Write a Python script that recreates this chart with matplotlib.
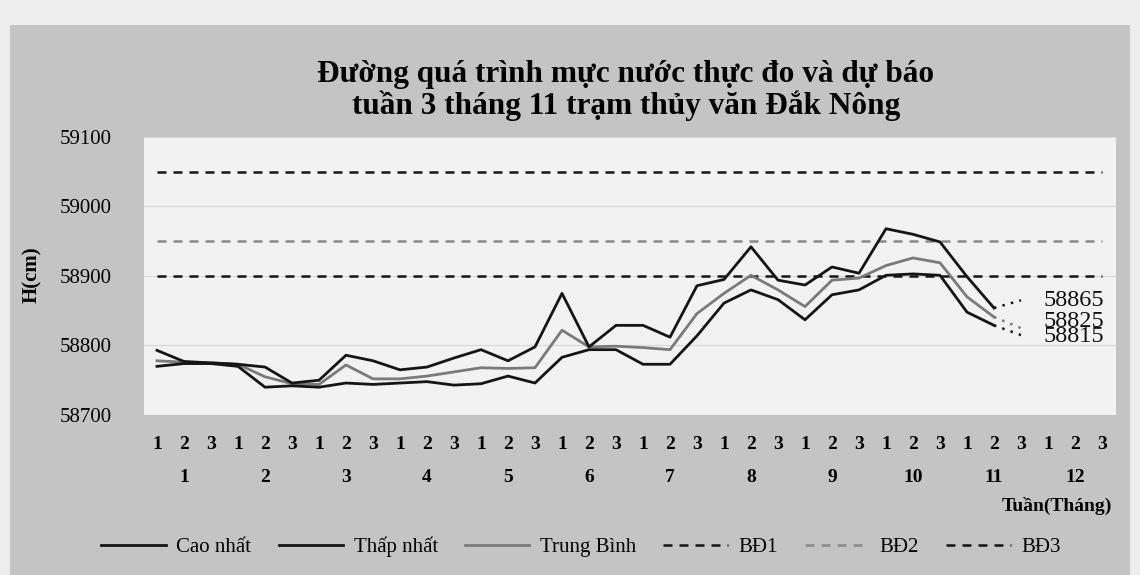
import matplotlib
matplotlib.use("Agg")
import matplotlib.pyplot as plt
from matplotlib.patches import Rectangle
import matplotlib.transforms as mtransforms

# ---- data ----
dekads = ["1", "2", "3"] * 12
months = [str(m) for m in range(1, 13)]
cao_nhat = [58793, 58777, 58775, 58773, 58769, 58746, 58750, 58786, 58778, 58765,
            58769, 58782, 58794, 58778, 58798, 58875, 58798, 58829, 58829, 58812,
            58886, 58895, 58942, 58894, 58887, 58913, 58904, 58968, 58960, 58949,
            58899, 58854]
trung_binh = [58778, 58776, 58775, 58773, 58755, 58745, 58744, 58772, 58752, 58752,
              58756, 58762, 58768, 58767, 58768, 58822, 58798, 58799, 58797, 58794,
              58846, 58875, 58901, 58880, 58856, 58894, 58897, 58915, 58926, 58919,
              58870, 58841]
thap_nhat = [58770, 58774, 58774, 58770, 58740, 58742, 58740, 58746, 58744, 58746,
             58748, 58743, 58745, 58756, 58746, 58783, 58794, 58794, 58773, 58773,
             58814, 58861, 58880, 58866, 58837, 58873, 58880, 58901, 58903, 58901,
             58848, 58829]
forecast = {"cao": 58865, "tb": 58825, "thap": 58815}
bd1, bd2, bd3 = 58900, 58950, 59050
yticks = [58700, 58800, 58900, 59000, 59100]

serif = "Liberation Serif"
plt.rcParams["font.family"] = [serif, "DejaVu Serif"]

fig = plt.figure(figsize=(11.4, 5.75), dpi=100)
fig.patch.set_facecolor("#ededed")
bg = Rectangle((10 / 1140, 0), 1120 / 1140, 550 / 575,
               transform=fig.transFigure, facecolor="#c4c4c4",
               edgecolor="none", zorder=-10)
fig.patches.append(bg)

ax = fig.add_axes([143.5 / 1140, 1 - 415 / 575, 972 / 1140, 278 / 575])
ax.set_zorder(5)
ax.set_facecolor("#f2f2f2")
for s in ax.spines.values():
    s.set_visible(False)

n = len(dekads)
x = list(range(n))
xo = x[:len(cao_nhat)]

c_black = "#151515"
c_gray = "#7a7a7a"
dash = (0, (3.6, 2.8))
ax.plot(xo, cao_nhat, color=c_black, lw=2.0, zorder=4, label="Cao nhất")
ax.plot(xo, thap_nhat, color=c_black, lw=2.0, zorder=4, label="Thấp nhất")
ax.plot(xo, trung_binh, color=c_gray, lw=2.0, zorder=3, label="Trung Bình")

ax.axhline(bd1, color=c_black, lw=1.8, ls=dash, zorder=2, label="BĐ1",
           xmin=0.5 / 36, xmax=35.5 / 36)
ax.axhline(bd2, color="#8a8a8a", lw=1.8, ls=dash, zorder=2, label="BĐ2",
           xmin=0.5 / 36, xmax=35.5 / 36)
ax.axhline(bd3, color=c_black, lw=1.8, ls=dash, zorder=2, label="BĐ3",
           xmin=0.5 / 36, xmax=35.5 / 36)

last = len(cao_nhat) - 1
for key, series, col in [("cao", cao_nhat, c_black), ("tb", trung_binh, c_gray),
                         ("thap", thap_nhat, c_black)]:
    ax.plot([last, last + 1], [series[-1], forecast[key]], color=col, lw=1.8,
            ls=(0, (1, 2.5)), zorder=4)
offsets = {"cao": 0, "tb": 5, "thap": -1}
for key in ["cao", "tb", "thap"]:
    ax.annotate(str(forecast[key]), (last + 1, forecast[key]),
                xytext=(16, offsets[key]), textcoords="offset points",
                va="center", ha="left", fontsize=17.5, color="#111111", family=serif)

ax.set_xlim(-0.5, n - 0.5)
ax.set_ylim(58700, 59100)
ax.set_yticks(yticks)
ax.set_yticklabels([str(v) for v in yticks], fontsize=15, family=serif)
ax.tick_params(axis="y", length=0, pad=23)
ax.set_xticks(x)
ax.set_xticklabels(dekads, fontsize=14, fontweight="bold", family=serif)
ax.tick_params(axis="x", length=0, pad=15)
ax.grid(axis="y", color="#d8d8d8", lw=0.8)
ax.grid(axis="x", visible=False)
ax.set_axisbelow(True)

trans = mtransforms.blended_transform_factory(ax.transData, fig.transFigure)
for i, m in enumerate(months):
    ax.text(3 * i + 1, 1 - 477 / 575, m, transform=trans, ha="center", va="center",
            fontsize=14, fontweight="bold", family=serif, clip_on=False)
fig.text(1057 / 1140, 1 - 506 / 575, "Tuần(Tháng)", ha="center", va="center",
         fontsize=14, fontweight="bold", family=serif)

fig.text(32 / 1140, 1 - 275 / 575, "H(cm)", rotation=90, ha="center", va="center",
         fontsize=15, fontweight="bold", family=serif)

fig.text(626 / 1140, 1 - 74 / 575, "Đường quá trình mực nước thực đo và dự báo",
         ha="center", va="center", fontsize=22.5, fontweight="bold", family=serif)
fig.text(626 / 1140, 1 - 106 / 575, "tuần 3 tháng 11 trạm thủy văn Đắk Nông",
         ha="center", va="center", fontsize=22.5, fontweight="bold", family=serif)

handles, labels = ax.get_legend_handles_labels()
leg = fig.legend(handles, labels, loc="center", bbox_to_anchor=(581 / 1140, 1 - 547 / 575),
                 ncol=6, frameon=False, handlelength=3.1,
                 columnspacing=1.3, handletextpad=0.5, prop={"family": serif, "size": 15})

fig.savefig("out.png", dpi=100, facecolor=fig.get_facecolor())
